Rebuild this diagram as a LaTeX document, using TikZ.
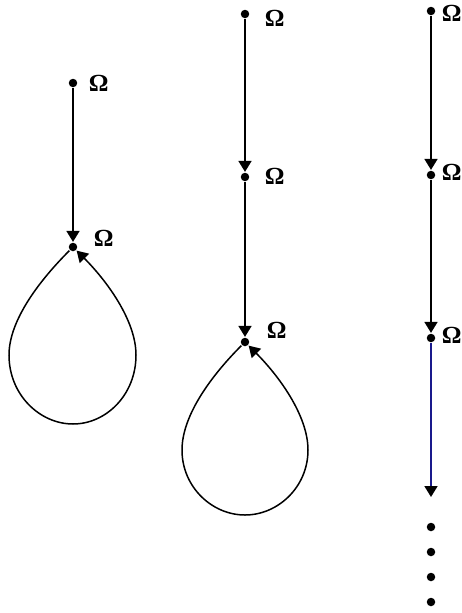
\documentclass[tikz,border=0pt]{standalone}
\usepackage{fontspec}
\setmainfont{Liberation Serif}
\usetikzlibrary{arrows.meta}
\definecolor{darkblue}{RGB}{25,25,140}

\begin{document}
\begin{tikzpicture}[x=0.02cm, y=-0.02cm, line width=0.035cm,
    dot/.style={circle, fill, inner sep=0pt, minimum size=0.17cm},
    omega/.style={anchor=west, inner sep=0pt, font=\bfseries\fontsize{14}{15}\selectfont},
    >={Triangle[length=0.22cm, width=0.26cm]}]
    % Fixed frame (pixel grid of the reference)
    \useasboundingbox (0,0) rectangle (461,613);

    % Left: two points, the second one loops back on itself
    \node[dot] (l1) at (73,83) {};
    \node[dot] (l2) at (73,247) {};
    \node[omega] (l1lab) at (88,83) {Ω};
    \node[omega] (l2lab) at (93,238) {Ω};
    \draw[->] (l1) -- (l2);
    \begin{scope}[shift={(73,247)}]
      \draw[->, line width=0.03cm] (l2) .. controls (-33,33) and (-64,73) .. (-64,108)
        .. controls (-64,148) and (-33,177) .. (0,177)
        .. controls (33,177) and (63,148) .. (63,108)
        .. controls (63,73) and (33,33) .. (l2);
    \end{scope}

    % Middle: three points, the last one loops back on itself
    \node[dot] (m1) at (245,14) {};
    \node[dot] (m2) at (245,177) {};
    \node[dot] (m3) at (245,342) {};
    \node[omega] (m1lab) at (264,18) {Ω};
    \node[omega] (m2lab) at (264,176) {Ω};
    \node[omega] (m3lab) at (266,330) {Ω};
    \draw[->] (m1) -- (m2);
    \draw[->] (m2) -- (m3);
    \begin{scope}[shift={(245,342)}]
      \draw[->, line width=0.03cm] (m3) .. controls (-33,33) and (-63,73) .. (-63,108)
        .. controls (-63,145) and (-33,173) .. (0,173)
        .. controls (33,173) and (63,145) .. (63,108)
        .. controls (63,73) and (33,33) .. (m3);
    \end{scope}

    % Right: a chain that goes on
    \node[dot] (r1) at (431,11) {};
    \node[dot] (r2) at (431,175) {};
    \node[dot] (r3) at (431,338) {};
    \node[omega] (r1lab) at (441,13) {Ω};
    \node[omega] (r2lab) at (441,172) {Ω};
    \node[omega] (r3lab) at (441,335) {Ω};
    \draw[->] (r1) -- (r2);
    \draw[->] (r2) -- (r3);
    \coordinate (r4) at (431,497);
    \draw[darkblue, -{Triangle[length=0.22cm, width=0.26cm, color=black]}] (r3) -- (r4);
    \foreach \i/\y in {1/527, 2/552, 3/577, 4/602}
      \node[dot] (e\i) at (431,\y) {};
\end{tikzpicture}
\end{document}
